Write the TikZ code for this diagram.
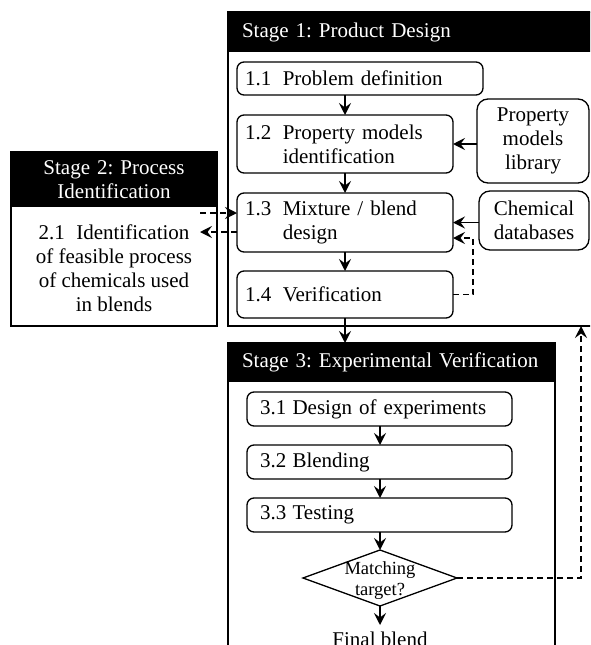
\documentclass[tikz,border=0pt]{standalone}
\usepackage{fontspec}
\setmainfont{Liberation Serif}
\usetikzlibrary{arrows.meta,shapes.geometric}
\frenchspacing
\begin{document}
\frenchspacing
\begin{tikzpicture}[x=1pt,y=-1pt]
\tikzset{
  bigfont/.style={font=\fontsize{21}{24}\selectfont},
  stagebox/.style={draw, line width=1.3pt, inner sep=0pt, outer sep=0pt, anchor=north west},
  hdr/.style={fill=black, text=white, bigfont, inner xsep=14pt, inner ysep=0pt, outer sep=0pt, anchor=north west, align=left},
  proc/.style={draw, rounded corners=7pt, line width=1.3pt, bigfont, align=left, outer sep=0pt, inner ysep=0pt},
  side/.style={draw, rounded corners=11pt, line width=1.3pt, bigfont, align=center, outer sep=0pt, inner sep=0pt},
  arr/.style={line width=1.4pt, -{Stealth[length=12pt,width=12pt,inset=4.5pt]}},
  darr/.style={arr, dash pattern=on 6pt off 4pt},
}
\useasboundingbox (0,0) rectangle (590,645);
\clip (0,0) rectangle (590,645);

% Stage 1
\node[stagebox, minimum width=366pt, minimum height=314pt] (s1) at (228,12) {};
\node[hdr, text width=338pt, minimum height=40pt] (s1h) at (228,12) {\mbox{Stage 1: Product Design}};
\node[proc, text width=230pt, inner xsep=8pt, minimum height=33pt] (n11) at (360,78.5) {1.1\hspace{0.55em}Problem definition};
\node[proc, text width=200pt, inner xsep=8pt, minimum height=58pt] (n12) at (345,144) {1.2\hspace{0.55em}Property models\\\hphantom{1.2\hspace{0.55em}}identification};
\node[proc, text width=200pt, inner xsep=8pt, minimum height=59pt] (n13) at (345,222.5) {1.3\hspace{0.55em}Mixture / blend\\\hphantom{1.3\hspace{0.55em}}design};
\node[proc, text width=200pt, inner xsep=8pt, minimum height=47pt] (n14) at (345,294.5) {1.4\hspace{0.55em}Verification};
\node[side, minimum width=112pt, minimum height=84pt] (pml) at (533,141) {Property\\models\\library};
\node[side, minimum width=110pt, minimum height=59pt] (chem) at (534,220.5) {Chemical\\databases};

% Stage 2
\node[stagebox, minimum width=206pt, minimum height=174pt] (s2) at (11,152) {};
\node[hdr, align=center, inner xsep=8pt, text width=190pt, minimum height=55pt] (s2h) at (11,152) {Stage 2: Process\\Identification};
\node[bigfont, align=center, inner sep=0pt] (n21) at (114,268) {2.1\hspace{0.55em}Identification\\of feasible process\\of chemicals used\\in blends};

% Stage 3
\node[stagebox, minimum width=327pt, minimum height=330pt] (s3) at (228,343) {};
\node[hdr, text width=299pt, minimum height=39pt] (s3h) at (228,343) {\mbox{Stage 3: Experimental Verification}};
\node[proc, text width=239pt, inner xsep=13pt, minimum height=34pt] (n31) at (379.5,409) {3.1\hspace{0.3em}Design of experiments};
\node[proc, text width=239pt, inner xsep=13pt, minimum height=34pt] (n32) at (379.5,462) {3.2\hspace{0.3em}Blending};
\node[proc, text width=239pt, inner xsep=13pt, minimum height=34pt] (n33) at (379.5,515) {3.3\hspace{0.3em}Testing};
\node[draw, diamond, line width=1.3pt, minimum width=154pt, minimum height=56pt, inner sep=0pt, outer sep=0pt] (dia) at (380,578) {};
\node[font=\fontsize{18.5}{21}\selectfont, align=center, inner sep=0pt] (diat) at (380,581) {Matching\\target?};
\node[bigfont, inner sep=0pt, outer sep=0pt, anchor=north] (fb) at (380,632) {Final blend};

% connectors stage 1
\draw[arr] (n11.south -| n12.north) -- (n12.north);
\draw[arr] (n12.south) -- (n13.north);
\draw[arr] (n13.south) -- (n14.north);
\draw[arr] (pml.west |- n12.east) -- (n12.east);
\draw[arr] (chem.west |- n13.east) -- (n13.east);
\coordinate (v1) at (473,238);
\draw[darr] (n14.east) -| (v1) -- (v1 -| n13.east);
\draw[arr] (n14.south) -- (n14.south |- s3.north);

% stage 2 links
\coordinate (d1) at (200,213);
\coordinate (d2) at (200,232);
\draw[darr] (d1) -- (d1 -| n13.west);
\draw[darr] (d2 -| n13.west) -- (d2);

% stage 3
\draw[arr] (n31.south -| dia.north) -- (n32.north -| dia.north);
\draw[arr] (n32.south -| dia.north) -- (n33.north -| dia.north);
\draw[arr] (n33.south -| dia.north) -- (dia.north);
\draw[arr, shorten >=7pt] (dia.south) -- (fb.north);
\coordinate (v2) at (581,578);
\draw[darr] (dia.east) -- (v2) -- (v2 |- s1.south);
\end{tikzpicture}
\end{document}
